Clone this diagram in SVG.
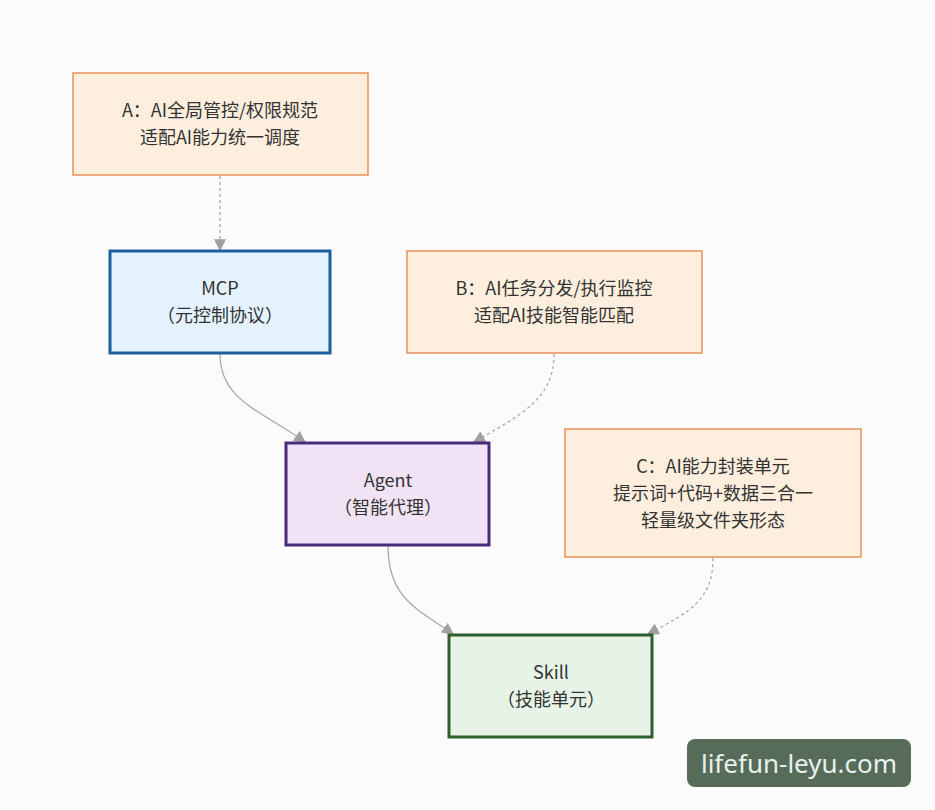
<svg xmlns="http://www.w3.org/2000/svg" width="935" height="810" viewBox="0 0 935 810">
<defs>
<marker id="ah" viewBox="0 0 10 10" refX="9" refY="5" markerWidth="12" markerHeight="12" markerUnits="userSpaceOnUse" orient="auto">
<path d="M0,0 L10,5 L0,10 z" fill="#a0a0a0"/>
</marker>
<style>
text{font-family:"Noto Sans CJK SC","Noto Sans",sans-serif;font-size:18px;fill:#333;text-anchor:middle}
.note rect{fill:#fdeedd;stroke:#e9915a;stroke-width:1.5}
.edge{fill:none;stroke:#a8a8a8;stroke-width:1.3}
.dash{stroke-dasharray:3,3}
</style>
</defs>
<rect width="935" height="810" fill="#fbfbfb"/>
<g id="connectors">
<path class="edge dash" d="M220,176 L220,250" marker-end="url(#ah)"/>
<path class="edge" d="M220,354 C220,400 260,410 305,442" marker-end="url(#ah)"/>
<path class="edge dash" d="M554,354 C554,400 520,415 474,442" marker-end="url(#ah)"/>
<path class="edge" d="M388,546 C388,600 420,610 453,634" marker-end="url(#ah)"/>
<path class="edge dash" d="M713,558 C713,600 690,612 648,634" marker-end="url(#ah)"/>
</g>
<g id="nodeA" class="note">
<rect x="73" y="73" width="295" height="102"/>
<text x="220" y="117">A：AI全局管控/权限规范</text>
<text x="220" y="144">适配AI能力统一调度</text>
</g>
<g id="nodeMCP">
<rect x="110" y="251" width="220" height="102" fill="#e3f2fc" stroke="#1d5f9a" stroke-width="3"/>
<text x="220" y="295">MCP</text>
<text x="220" y="322">（元控制协议）</text>
</g>
<g id="nodeB" class="note">
<rect x="407" y="251" width="295" height="102"/>
<text x="554" y="295">B：AI任务分发/执行监控</text>
<text x="554" y="322">适配AI技能智能匹配</text>
</g>
<g id="nodeAgent">
<rect x="286" y="443" width="203" height="102" fill="#f1e3f5" stroke="#4b2a7d" stroke-width="3"/>
<text x="388" y="487">Agent</text>
<text x="388" y="514">（智能代理）</text>
</g>
<g id="nodeC" class="note">
<rect x="565" y="429" width="296" height="128"/>
<text x="713" y="473">C：AI能力封装单元</text>
<text x="713" y="500">提示词+代码+数据三合一</text>
<text x="713" y="527">轻量级文件夹形态</text>
</g>
<g id="nodeSkill">
<rect x="449" y="635" width="203" height="102" fill="#e7f3e7" stroke="#2c5f2c" stroke-width="3"/>
<text x="551" y="679">Skill</text>
<text x="551" y="706">（技能单元）</text>
</g>
<g id="watermark">
<rect x="687" y="739" width="224" height="48" rx="8" fill="#566c58"/>
<text x="799" y="773" style="font-family:'Noto Sans',sans-serif;font-size:26px;fill:#e8f0f0">lifefun-leyu.com</text>
</g>
</svg>
